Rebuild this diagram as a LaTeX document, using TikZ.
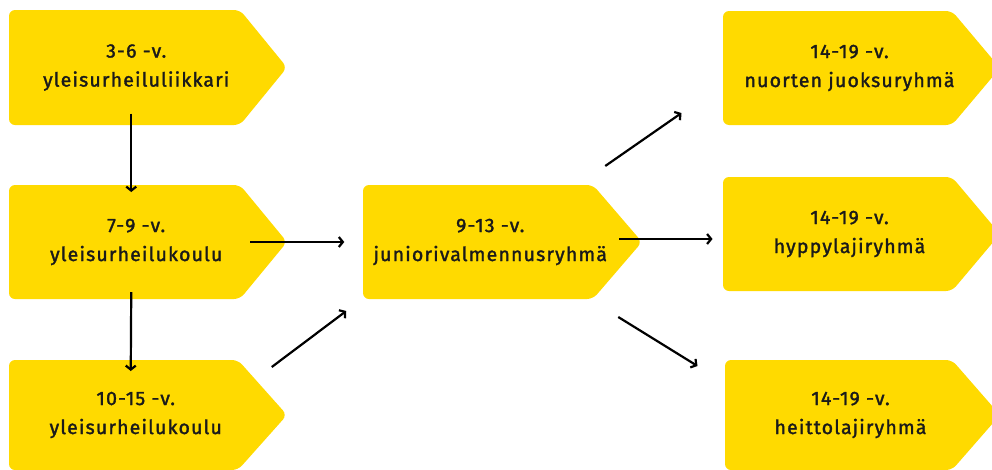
\documentclass[tikz,border=0pt]{standalone}
\usepackage{fontspec}
\setmainfont{Fira Sans}[FakeBold=1.6, LetterSpace=6]
\usetikzlibrary{arrows.meta,calc}

\definecolor{tagyellow}{HTML}{FFDA00}
\definecolor{tagtext}{HTML}{1A1A1A}

\tikzset{
  tagfill/.style={fill=tagyellow, rounded corners=6pt},
  taglabel/.style={align=center, text=tagtext, inner sep=0pt,
    font=\fontsize{19.5}{29}\selectfont},
  flow/.style={draw=black, line width=2.2pt,
    -{Straight Barb[length=4pt,width=10pt]}},
}

% \tagbox{name}{left}{top}{bottom}{corner x}{tip x}{text}
\newcommand\tagbox[7]{%
  \fill[tagfill] (#2,#3) -- (#5,#3) -- (#6,{(#3+#4)/2}) -- (#5,#4) -- (#2,#4) -- cycle;
  \node[taglabel] (#1) at ({(#2+(#5+#6)/2)/2},{(#3+#4)/2}) {#7};
}

\begin{document}
\begin{tikzpicture}[x=1pt,y=-1pt]
  \useasboundingbox (0,0) rectangle (992,469);
  \clip (0,0) rectangle (992,469);

  % left column
  \tagbox{b1}{9}{10}{125}{240}{287}{3-6 -v.\\yleisurheiluliikkari}
  \tagbox{b2}{9}{185}{299}{240}{287}{7-9 -v.\\yleisurheilukoulu}
  \tagbox{b3}{9}{360}{470}{238}{287}{10-15 -v.\\yleisurheilukoulu}

  % middle
  \tagbox{b4}{363}{185}{299}{593}{642}{9-13 -v.\\juniorivalmennusryhmä}

  % right column
  \tagbox{b5}{723}{11}{125}{952}{1000}{14-19 -v.\\nuorten juoksuryhmä}
  \tagbox{b6}{723}{177}{291}{952}{1000}{14-19 -v.\\hyppylajiryhmä}
  \tagbox{b7}{725}{360}{470}{952}{1000}{14-19 -v.\\heittolajiryhmä}

  % connectors
  \draw[flow] ($(b1)+(-5,46)$) -- ($(b2)+(-5,-50)$);
  \draw[flow] ($(b2)+(-5,50)$) -- ($(b3)+(-5,-44)$);
  \draw[flow] ($(b2)+(114,0)$) -- ($(b4)+(-146,0)$);
  \draw[flow] ($(b3)+(136,-48)$) -- ($(b4)+(-144,69)$);
  \draw[flow] ($(b4)+(115,-76)$) -- ($(b5)+(-168,45)$);
  \draw[flow] ($(b4)+(129,-3)$) -- ($(b6)+(-137,5)$);
  \draw[flow] ($(b4)+(128,75)$) -- ($(b7)+(-153,-49)$);
\end{tikzpicture}
\end{document}
